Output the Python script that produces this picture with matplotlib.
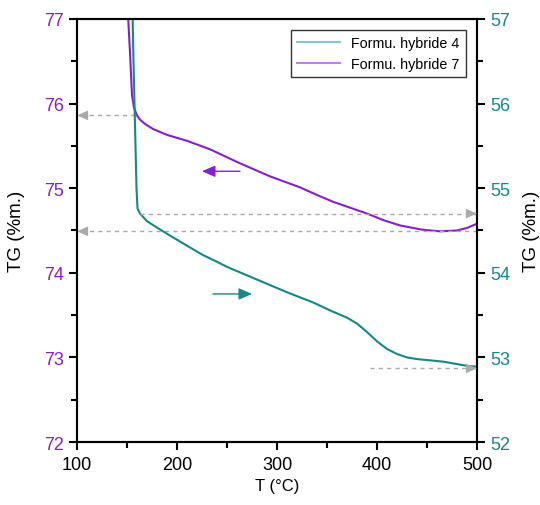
import matplotlib
matplotlib.use("Agg")
import matplotlib.pyplot as plt
from matplotlib.ticker import MultipleLocator

plt.rcParams['font.family'] = ['Liberation Sans', 'DejaVu Sans']

# Data
purple_T = [151, 153, 155, 157, 160, 163, 168, 176, 190, 210, 233, 260, 293, 323, 340, 356,
            373, 390, 407, 423, 445, 463, 480, 490, 500]
purple_TG = [77.05, 76.6, 76.1, 75.95, 75.86, 75.81, 75.76, 75.70, 75.63, 75.56, 75.46, 75.31,
             75.14, 75.01, 74.92, 74.84, 74.77, 74.70, 74.62, 74.56, 74.51, 74.49, 74.50,
             74.53, 74.58]
teal_T = [155.5, 156.5, 157.5, 158.5, 159.5, 160.5, 163, 170, 186, 210, 226, 240, 250, 276,
          310, 336, 356, 370, 380, 390, 400, 410, 420, 430, 440, 466, 490, 500]
teal_TG = [57.1, 56.5, 56.0, 55.5, 55.0, 54.76, 54.7, 54.61, 54.49, 54.32, 54.21, 54.13,
           54.07, 53.94, 53.77, 53.65, 53.54, 53.47, 53.40, 53.30, 53.19, 53.10, 53.04, 53.0,
           52.98, 52.95, 52.90, 52.89]

labels = ["Formu. hybride 4", "Formu. hybride 7"]
x_ticks = [100, 200, 300, 400, 500]
left_ticks = [72, 73, 74, 75, 76, 77]
right_ticks = [52, 53, 54, 55, 56, 57]

# guide arrows: (x_from, x_to, y) in data units
left_guides = [(158, 100, 75.86), (500, 100, 74.49)]     # left axis
right_guides = [(163, 500, 54.70), (393, 500, 52.87)]    # right axis
purple_arrow = (263, 225, 75.20)
teal_arrow = (236, 275, 53.75)

PURPLE = '#8A1ECF'
TEAL = '#13898A'
GREY = '#AAAAAA'

fig = plt.figure(figsize=(5.4, 5.06), dpi=100)
ax = fig.add_axes([0.1426, 0.1245, 0.7407, 0.836])
ax2 = ax.twinx()

l4, = ax2.plot(teal_T, teal_TG, color=TEAL, lw=1.5)
l7, = ax.plot(purple_T, purple_TG, color=PURPLE, lw=1.5)

ax.set_xlim(100, 500)
ax.set_ylim(72, 77)
ax2.set_ylim(52, 57)

ax.set_xticks(x_ticks)
ax.set_yticks(left_ticks)
ax2.set_yticks(right_ticks)
ax.xaxis.set_minor_locator(MultipleLocator(50))
ax.yaxis.set_minor_locator(MultipleLocator(0.5))
ax2.yaxis.set_minor_locator(MultipleLocator(0.5))

for a in (ax, ax2):
    a.tick_params(which='major', direction='out', length=6, width=1.5)
    a.tick_params(which='minor', direction='out', length=4, width=1.5)
    for s in a.spines.values():
        s.set_linewidth(1.5)

ax.tick_params(axis='x', labelsize=13, pad=4)
ax.tick_params(axis='y', labelsize=13, labelcolor=PURPLE)
ax2.tick_params(axis='y', labelsize=13, labelcolor=TEAL)

ax.set_xlabel("T (°C)", fontsize=12)
ax.set_ylabel("TG (%m.)", fontsize=13.5, va='center')
ax2.set_ylabel("TG (%m.)", fontsize=13.5, rotation=90, va='center')
ax.yaxis.set_label_coords(-0.1525, 0.5)
ax2.yaxis.set_label_coords(1.1375, 0.5)

def guide(a, x0, x1, y):
    a.plot([x0, x1], [y, y], color=GREY, lw=1, ls=(0, (3, 3)), clip_on=False)
    d = 12 if x1 > x0 else -12
    a.annotate('', xy=(x1, y), xytext=(x1 - d, y),
               arrowprops=dict(arrowstyle='-|>,head_length=0.8,head_width=0.35',
                               color=GREY, lw=0, shrinkA=0, shrinkB=0),
               annotation_clip=False)

for g in left_guides:
    guide(ax, *g)
for g in right_guides:
    guide(ax2, *g)

def color_arrow(a, x0, x1, y, c):
    a.annotate('', xy=(x1, y), xytext=(x0, y),
               arrowprops=dict(arrowstyle='-|>,head_length=0.8,head_width=0.35',
                               color=c, lw=1, shrinkA=0, shrinkB=0))

color_arrow(ax, *purple_arrow, PURPLE)
color_arrow(ax2, *teal_arrow, TEAL)

leg = ax2.legend([l4, l7], labels, loc='upper right', fontsize=10.3,
                 frameon=True, fancybox=False, edgecolor='black',
                 handlelength=3.0, borderaxespad=0.8, labelspacing=0.5)
leg.get_frame().set_linewidth(1)
leg.legend_handles[0].set_color('#7FCACA')
leg.legend_handles[1].set_color('#C07FE8')

fig.savefig('out.png', dpi=100)
